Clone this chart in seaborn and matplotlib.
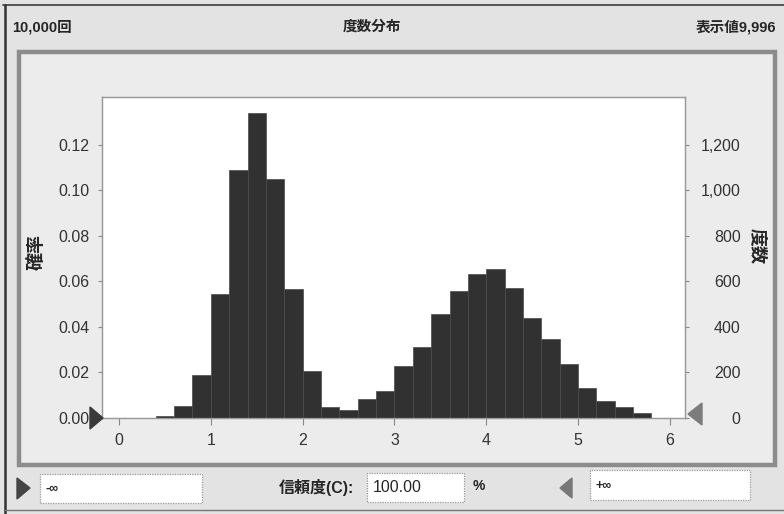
import matplotlib
matplotlib.use("Agg")
import matplotlib.pyplot as plt
import numpy as np
import pandas as pd
import seaborn as sns
from matplotlib.patches import Rectangle, Polygon
from matplotlib.ticker import FuncFormatter

# Simulation summary
trials = 10000
shown = 9996

# Histogram bins (left edges, width 0.2) and frequencies
bin_left = [0.4, 0.6, 0.8, 1.0, 1.2, 1.4, 1.6, 1.8, 2.0, 2.2, 2.4, 2.6, 2.8,
            3.0, 3.2, 3.4, 3.6, 3.8, 4.0, 4.2, 4.4, 4.6, 4.8, 5.0, 5.2, 5.4, 5.6]
bin_width = 0.2
counts = [8, 53, 190, 545, 1090, 1340, 1050, 567, 205, 48, 36, 83, 120,
          230, 313, 456, 558, 633, 654, 573, 438, 346, 237, 130, 76, 50, 23]

x_ticks = [0, 1, 2, 3, 4, 5, 6]
prob_ticks = [0.00, 0.02, 0.04, 0.06, 0.08, 0.10, 0.12]
count_ticks = [0, 200, 400, 600, 800, 1000, 1200]

df = pd.DataFrame({"left": bin_left, "count": counts})
df["center"] = df["left"] + bin_width / 2
edges = list(bin_left) + [bin_left[-1] + bin_width]

sns.set_theme(style="white")
plt.rcParams["font.family"] = ["Liberation Sans", "Noto Sans CJK JP", "DejaVu Sans"]

W, H = 784, 514
fig = plt.figure(figsize=(W / 100, H / 100), dpi=100, facecolor="#e3e3e3")


def P(x, y):
    return (x / W, 1 - y / H)


def rect(x0, y0, x1, y1, z=-1, **kw):
    fig.add_artist(Rectangle(P(x0, y1), (x1 - x0) / W, (y1 - y0) / H,
                             transform=fig.transFigure, zorder=z, **kw))


def tri(pts, color):
    fig.add_artist(Polygon([P(*p) for p in pts], closed=True,
                           transform=fig.transFigure, facecolor=color,
                           edgecolor=color, zorder=10))


TXT = "#262626"

# window frame lines
fig.add_artist(plt.Line2D([3 / W, 1], [1 - 5 / H] * 2, color="#555555", lw=1.4,
                          transform=fig.transFigure))
fig.add_artist(plt.Line2D([5 / W] * 2, [0, 1 - 5 / H], color="#333333", lw=1.8,
                          transform=fig.transFigure))
fig.add_artist(plt.Line2D([5 / W, 1], [1 - 510 / H] * 2, color="#777777", lw=1.0,
                          transform=fig.transFigure))

# chart panel
rect(19, 52, 775, 465, z=-5, facecolor="#ececec", edgecolor="#8c8c8c", lw=3.2)

# header texts
fig.text(*P(12, 27), f"{trials:,}回", fontsize=10.5, fontweight="bold",
         color=TXT, ha="left", va="center")
fig.text(*P(372, 27), "度数分布", fontsize=10.5, fontweight="bold",
         color=TXT, ha="center", va="center")
fig.text(*P(776, 27), f"表示値{shown:,}", fontsize=10.5, fontweight="bold",
         color=TXT, ha="right", va="center")

# plot area
x0, y0, x1, y1 = 102, 97, 685, 418
ax = fig.add_axes([x0 / W, 1 - y1 / H, (x1 - x0) / W, (y1 - y0) / H])
ax.set_facecolor("white")
ax2 = ax.twinx()

sns.histplot(data=df, x="center", weights="count", bins=edges, ax=ax2,
             color="#313131", edgecolor="#4a4a4a", linewidth=0.5, alpha=1.0)

ymax_count = 1410
ax2.set_ylim(0, ymax_count)
ax.set_ylim(0, ymax_count / trials)
ax.set_xlim(-0.185, 6.165)

ax.set_xticks(x_ticks)
ax.set_yticks(prob_ticks)
ax2.set_yticks(count_ticks)
ax.yaxis.set_major_formatter(FuncFormatter(lambda v, p: f"{v:.2f}"))
ax2.yaxis.set_major_formatter(FuncFormatter(lambda v, p: f"{int(round(v)):,}"))

ax.tick_params(axis="x", bottom=True, direction="out", length=5, width=0.8,
               color="#888888", labelsize=11.5, labelcolor="#333333", pad=6)
ax.tick_params(axis="y", left=True, direction="out", length=3, width=0.8,
               color="#888888", labelsize=11.5, labelcolor="#333333", pad=6)
ax2.tick_params(axis="y", right=True, direction="out", length=3, width=0.8,
                color="#888888", labelsize=11.5, labelcolor="#333333", pad=37)
for lab in ax2.get_yticklabels():
    lab.set_horizontalalignment("right")

for a in (ax, ax2):
    a.set_xlabel("")
    for s in a.spines.values():
        s.set_color("#9a9a9a")
        s.set_linewidth(0.9)
        s.set_linestyle((0, (1, 1)))

ax.set_ylabel("確率", fontsize=13, fontweight="bold", color=TXT, rotation=90,
              va="center", ha="center")
ax.yaxis.set_label_coords((37 - x0) / (x1 - x0), (y1 - 252) / (y1 - y0))
ax2.set_ylabel("度数", fontsize=13, fontweight="bold", color=TXT, rotation=-90,
               va="center", ha="center")
ax2.yaxis.set_label_coords((757 - x0) / (x1 - x0), (y1 - 246) / (y1 - y0))

# range markers on the axis
tri([(90, 407), (90, 429), (103, 418)], "#3a3a3a")
tri([(702, 403), (702, 425), (688, 414)], "#7c7c7c")

# bottom controls
rect(40, 474, 202, 503, facecolor="white", edgecolor="#9a9a9a", lw=0.9, ls=(0, (1, 1)))
rect(367, 473, 464, 502, facecolor="white", edgecolor="#9a9a9a", lw=0.9, ls=(0, (1, 1)))
rect(590, 470, 750, 500, facecolor="white", edgecolor="#9a9a9a", lw=0.9, ls=(0, (1, 1)))
tri([(17, 478), (17, 499), (30, 488)], "#444444")
tri([(572, 478), (572, 498), (560, 488)], "#777777")

fig.text(*P(45, 489), "-∞", fontsize=9, fontweight="bold", color=TXT,
         ha="left", va="center")
fig.text(*P(596, 486), "+∞", fontsize=9, fontweight="bold", color=TXT,
         ha="left", va="center")
fig.text(*P(354, 488), "信頼度(C):", fontsize=11.5, fontweight="bold", color=TXT,
         ha="right", va="center")
fig.text(*P(373, 488), "100.00", fontsize=11.5, color=TXT,
         ha="left", va="center")
fig.text(*P(479, 486), "%", fontsize=10, fontweight="bold", color=TXT,
         ha="center", va="center")

fig.savefig("out.png", dpi=100, facecolor=fig.get_facecolor())
